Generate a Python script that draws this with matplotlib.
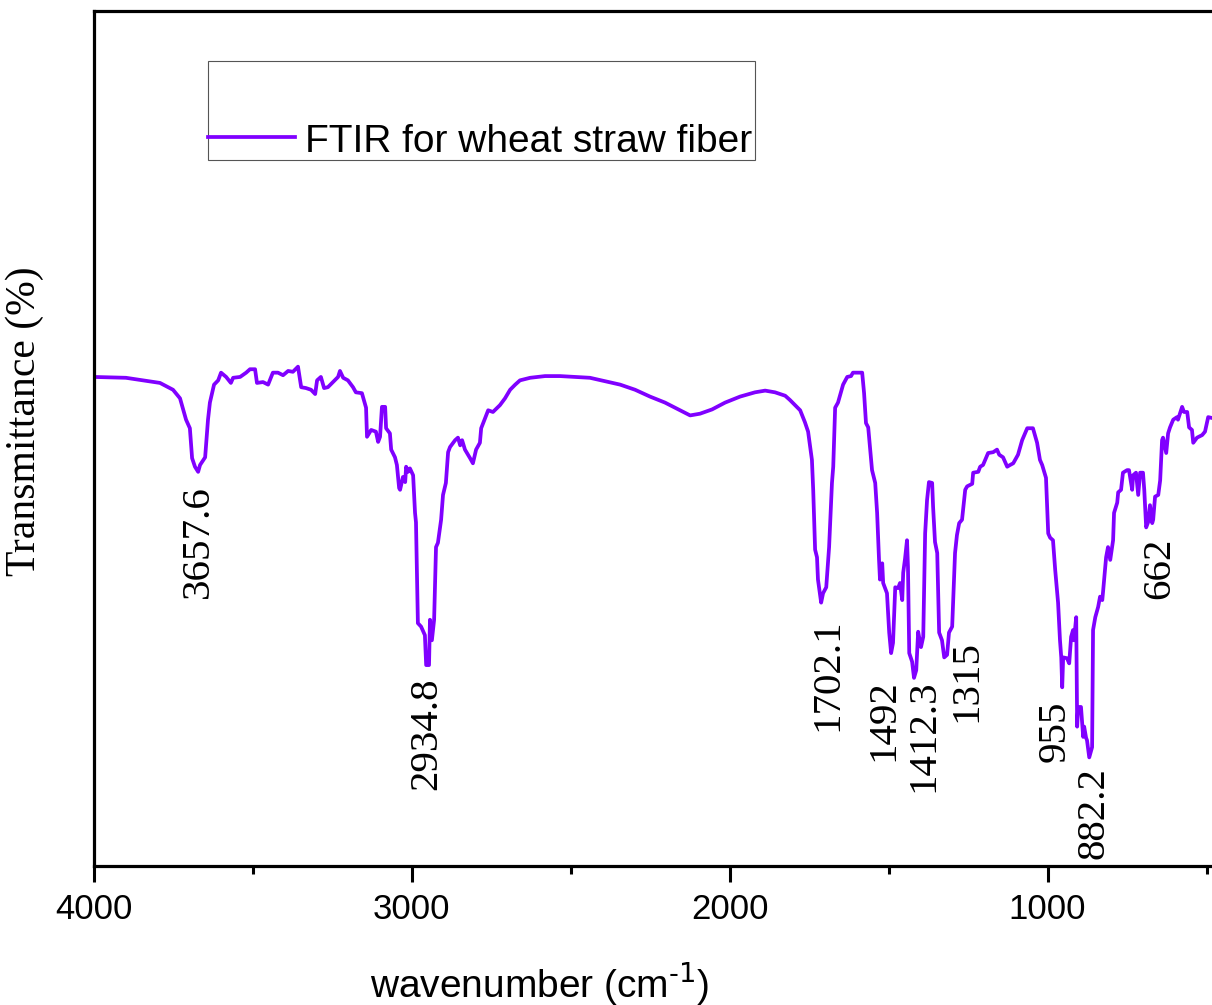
import matplotlib
matplotlib.use('Agg')
import matplotlib.pyplot as plt
from matplotlib.patches import Rectangle
from matplotlib.lines import Line2D

# ---------------------------------- spectrum ----------------------------------
wavenumber = [
    4000, 3898, 3791, 3750, 3728, 3709, 3697, 3690, 3681, 3671,
    3665, 3649, 3640, 3634, 3621, 3608, 3599, 3583, 3568, 3561,
    3539, 3520, 3508, 3492, 3486, 3467, 3451, 3436, 3420, 3404,
    3388, 3373, 3357, 3347, 3332, 3316, 3303, 3297, 3285, 3275,
    3263, 3247, 3231, 3225, 3215, 3200, 3184, 3175, 3156, 3143,
    3140, 3127, 3112, 3105, 3099, 3093, 3083, 3080, 3068, 3064,
    3052, 3046, 3039, 3036, 3027, 3020, 3017, 3011, 3005, 2995,
    2989, 2986, 2980, 2970, 2958, 2954, 2945, 2942, 2936, 2929,
    2923, 2917, 2907, 2901, 2892, 2885, 2879, 2863, 2854, 2847,
    2841, 2832, 2816, 2807, 2797, 2785, 2781, 2759, 2744, 2722,
    2706, 2690, 2674, 2659, 2627, 2580, 2533, 2486, 2439, 2391,
    2344, 2297, 2250, 2203, 2156, 2124, 2093, 2055, 2014, 1967,
    1920, 1888, 1857, 1825, 1810, 1778, 1763, 1753, 1741, 1737, 1731,
    1725, 1722, 1712, 1706, 1696, 1687, 1678, 1674, 1668, 1659,
    1646, 1643, 1630, 1618, 1612, 1596, 1583, 1577, 1571, 1564,
    1552, 1542, 1536, 1530, 1527, 1520, 1517, 1505, 1498, 1492,
    1486, 1479, 1470, 1464, 1457, 1454, 1448, 1442, 1439, 1435,
    1426, 1420, 1413, 1407, 1398, 1391, 1385, 1379, 1373, 1363,
    1360, 1354, 1347, 1341, 1332, 1325, 1316, 1310, 1300, 1291,
    1285, 1278, 1269, 1259, 1253, 1237, 1234, 1218, 1212, 1203,
    1187, 1171, 1159, 1152, 1140, 1127, 1118, 1108, 1093, 1080,
    1064, 1046, 1033, 1024, 1017, 1005, 998, 992, 983, 976,
    967, 961, 957, 954, 951, 939, 932, 926, 920, 917,
    910, 907, 904, 895, 888, 885, 879, 876, 869, 860,
    857, 850, 844, 841, 835, 828, 825, 816, 810, 803,
    794, 791, 781, 778, 769, 763, 750, 744, 734, 731,
    722, 715, 709, 700, 696, 690, 684, 678, 671, 668,
    662, 652, 646, 640, 637, 627, 621, 615, 605, 593,
    590, 577, 571, 561, 555, 546, 542, 530, 514, 505,
    495, 483,
]

transmittance = [
    57.2, 57.1, 56.5, 55.7, 54.7, 52.2, 51.2, 47.7, 46.7, 46.1,
    46.9, 47.8, 52.2, 54.2, 56.3, 56.8, 57.7, 57.2, 56.5, 57.1,
    57.2, 57.7, 58.1, 58.1, 56.5, 56.6, 56.3, 57.7, 57.7, 57.4,
    57.9, 57.8, 58.4, 56.0, 55.9, 55.7, 55.2, 56.8, 57.2, 55.9,
    56.0, 56.6, 57.2, 57.9, 57.1, 56.8, 56.0, 55.4, 55.3, 53.6,
    50.2, 51.0, 50.8, 49.6, 50.2, 53.7, 53.7, 51.2, 50.6, 48.7,
    47.8, 46.9, 44.2, 44.0, 45.5, 44.9, 46.7, 46.1, 46.5, 45.7,
    41.3, 40.2, 28.4, 28.0, 27.0, 23.5, 23.5, 28.8, 26.4, 28.8,
    37.3, 37.8, 40.5, 43.4, 44.8, 48.4, 49.0, 49.8, 50.1, 49.2,
    49.8, 48.7, 47.7, 47.1, 48.7, 49.5, 51.2, 53.3, 53.1, 53.9,
    54.7, 55.7, 56.3, 56.8, 57.1, 57.3, 57.3, 57.2, 57.1, 56.7,
    56.3, 55.7, 54.9, 54.2, 53.3, 52.7, 52.9, 53.4, 54.2, 54.9,
    55.4, 55.6, 55.4, 55.0, 54.5, 53.3, 51.9, 50.8, 47.5, 44.0, 37.0,
    36.1, 33.5, 30.8, 31.9, 32.6, 37.3, 44.8, 46.7, 53.6, 54.2,
    55.9, 56.3, 57.2, 57.3, 57.7, 57.7, 57.7, 55.3, 51.8, 51.3,
    46.3, 44.8, 41.3, 35.8, 33.5, 35.4, 33.1, 31.9, 27.3, 24.9,
    26.1, 32.6, 32.5, 33.1, 31.1, 34.3, 36.0, 38.1, 35.0, 24.9,
    23.9, 22.0, 22.9, 27.4, 25.6, 26.8, 38.9, 42.8, 44.9, 44.8,
    42.0, 37.9, 36.6, 27.3, 26.4, 24.4, 24.7, 27.3, 28.0, 36.6,
    38.7, 40.1, 40.5, 44.0, 44.4, 44.7, 46.0, 46.1, 46.7, 46.9,
    48.3, 48.4, 48.7, 48.1, 47.8, 46.7, 46.9, 47.1, 48.1, 49.8,
    51.2, 51.2, 49.5, 47.5, 46.9, 45.4, 38.9, 38.4, 38.1, 34.6,
    30.8, 26.4, 24.4, 20.9, 24.4, 24.3, 23.7, 26.8, 27.6, 26.4,
    29.1, 16.3, 18.6, 18.6, 15.1, 16.3, 15.0, 14.7, 12.7, 13.9,
    27.6, 29.1, 29.9, 30.3, 31.5, 31.1, 32.3, 36.1, 37.3, 35.8,
    38.1, 41.3, 42.5, 43.7, 44.0, 46.0, 46.3, 46.3, 44.0, 45.7,
    46.0, 43.4, 46.0, 46.0, 44.0, 39.6, 40.2, 42.2, 40.1, 40.5,
    43.2, 43.4, 45.1, 49.8, 50.1, 48.3, 50.6, 51.3, 52.2, 52.5,
    52.2, 53.7, 53.1, 53.1, 51.3, 51.0, 49.5, 50.1, 50.4, 50.8,
    52.5, 52.4,
]

# peak labels and where they sit (x = wavenumber, y = top end of the vertical text)
peak_labels = ['3657.6', '2934.8', '1702.1', '1492', '1412.3', '1315', '955', '882.2', '662']
label_x = [3671, 2951, 1690, 1514, 1388, 1253, 976, 854, 646]
label_y = [44.6, 22.1, 29.0, 21.8, 21.8, 26.4, 19.4, 11.6, 38.4]

major_ticks = [4000, 3000, 2000, 1000]
minor_ticks = [3500, 2500, 1500, 500]

purple = '#8000ff'
sans = ['Liberation Sans', 'DejaVu Sans']
serif = ['Liberation Serif', 'DejaVu Serif']

# ---------------------------------- figure ----------------------------------
fig = plt.figure(figsize=(12.12, 10.05), dpi=100)
ax = fig.add_axes([0.07715, 0.13831, 0.92285, 0.85075])

ax.plot(wavenumber, transmittance, color=purple, lw=2.7)

ax.set_xlim(4000, 483)
ax.set_ylim(0, 100)

# spines / ticks
ax.spines['right'].set_visible(False)
for s in ['left', 'top', 'bottom']:
    ax.spines[s].set_linewidth(2.3)
ax.set_yticks([])
ax.set_xticks(major_ticks)
ax.set_xticks(minor_ticks, minor=True)
ax.tick_params(axis='x', which='major', direction='out', length=11.5, width=2.2, pad=8)
ax.tick_params(axis='x', which='minor', direction='out', length=5.8, width=2.2)
for lab in ax.get_xticklabels():
    lab.set_fontfamily(sans)
    lab.set_fontsize(25)

# axis labels (x label is a little left of centre in the original)
ax.set_xlabel('wavenumber (cm$^{\\text{-1}}$)', fontsize=28, family=sans, va='baseline')
ax.xaxis.set_label_coords(0.3992, -0.1532)
ax.set_ylabel('Transmittance (%)', fontsize=30, family=serif, va='center')
ax.yaxis.set_label_coords(-0.0612, 0.52)

# peak annotations
for txt, x, y in zip(peak_labels, label_x, label_y):
    ax.text(x, y, txt, rotation=90, ha='center', va='top', fontsize=29.5, family=serif)

# legend box drawn like the original (empty space above the entry)
ax.add_patch(Rectangle((0.1024, 0.8257), 0.489, 0.1158, transform=ax.transAxes,
                       fill=False, ec='#555555', lw=0.8))
ax.add_line(Line2D([0.1024, 0.1802], [0.8526, 0.8526], transform=ax.transAxes,
                   color=purple, lw=2.7))
ax.text(0.189, 0.8351, 'FTIR for wheat straw fiber', transform=ax.transAxes,
        ha='left', va='baseline', fontsize=28, family=sans)

fig.savefig('out.png', dpi=100)
